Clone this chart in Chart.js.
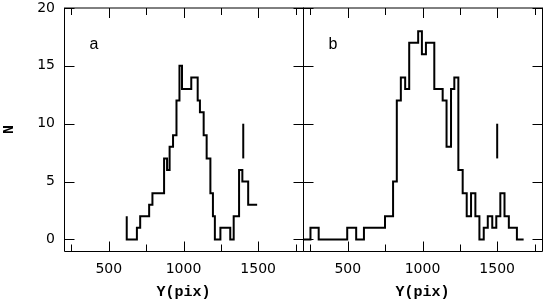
<!DOCTYPE html>
<html><head><meta charset="utf-8">
<script src="https://cdn.jsdelivr.net/npm/chart.js@4"></script>
<style>
html,body{margin:0;padding:0;background:#fff;}
#wrap{position:relative;width:545px;height:301px;overflow:hidden;background:#fff;}
.box{position:absolute;top:0;height:301px;}
</style></head><body>
<div id="wrap">
  <div class="box" style="left:0;width:310px"><canvas id="ca" width="310" height="301"></canvas></div>
  <div class="box" style="left:295px;width:250px"><canvas id="cb" width="250" height="301"></canvas></div>
</div>
<script>
// ---- data ----
const yTicks = [0, 5, 10, 15, 20];
const xLabelTicks = [500, 1000, 1500];
const xTickMarks = [250, 500, 750, 1000, 1250, 1500, 1750];

// panel a: step positions (Y pix) and counts N
const aStepX  = [620, 620, 688, 710, 770, 792, 870, 890, 907, 930, 953, 973, 990, 1052, 1095, 1110, 1135, 1155, 1180, 1197, 1210, 1247, 1313, 1336, 1372, 1394, 1433, 1493];
const aCounts = [2,   0,   1,   2,   3,   4,   7,   6,   8,   9,   12,  15,  13,  14,   12,   11,   9,    7,    4,    2,    0,    1,    0,    2,    6,    5,    3,    3];
const aMarkX = [1400, 1400];
const aMarkY = [7, 10];

// panel b
const bStepX  = [200, 250, 305, 496, 556, 608, 749, 803, 828, 855, 884, 911, 971, 996, 1023, 1079, 1135, 1161, 1191, 1213, 1240, 1269, 1296, 1325, 1354, 1381, 1410, 1437, 1467, 1494, 1521, 1549, 1578, 1632, 1677];
const bCounts = [0,   1,   0,   1,   0,   1,   2,   5,   12,  14,  13,  17,  18,  16,  17,   13,   12,   8,    13,   14,   6,    4,    2,    4,    2,    0,    1,    2,    1,    2,    4,    2,    1,    0,    0];
const bMarkX = [1500, 1500];
const bMarkY = [7, 10];

const panelLabels = ['a', 'b'];

// ---- drawing ----
const framePlugin = {
  id: 'frame',
  afterDraw(chart, args, opts) {
    const ctx = chart.ctx;
    const {left, right, top, bottom} = chart.chartArea;
    const xs = chart.scales.x, ys = chart.scales.y;
    ctx.save();
    ctx.strokeStyle = '#000';
    ctx.lineWidth = 1;
    ctx.beginPath();
    const L = Math.round(left) + 0.5, R = Math.round(right) + 0.5, B = Math.round(bottom) + 0.5, T = Math.round(top);
    ctx.moveTo(L, T); ctx.lineTo(L, B); ctx.lineTo(R, B); ctx.lineTo(R, T);
    ctx.stroke();
    ctx.beginPath();
    ctx.moveTo(L - 0.5, T); ctx.lineTo(R + 0.5, T);
    ctx.stroke();
    ctx.beginPath();
    xTickMarks.forEach(v => {
      const p = Math.round(xs.getPixelForValue(v)) + 0.5;
      const len = (v % 500 === 0) ? 10 : 7;
      ctx.moveTo(p, B); ctx.lineTo(p, B - len);
      ctx.moveTo(p, T); ctx.lineTo(p, T + len);
    });
    yTicks.forEach(v => {
      const p = Math.round(ys.getPixelForValue(v)) + 0.5;
      ctx.moveTo(L, p); ctx.lineTo(L + 10, p);
      ctx.moveTo(R, p); ctx.lineTo(R - 10, p);
    });
    ctx.stroke();
    // panel letter
    ctx.fillStyle = '#000';
    ctx.font = '16px "Liberation Sans"';
    ctx.textAlign = 'center';
    ctx.textBaseline = 'middle';
    ctx.fillText(opts.letter, xs.getPixelForValue(400), ys.getPixelForValue(16.8));
    ctx.restore();
  }
};

function makePanel(id, stepX, counts, markX, markY, letter, showY, padding) {
  const hist = stepX.map((x, i) => ({x: x, y: counts[i]}));
  const mark = markX.map((x, i) => ({x: x, y: markY[i]}));
  return new Chart(document.getElementById(id), {
    type: 'line',
    data: {
      datasets: [
        {data: hist, stepped: 'before', borderColor: '#000', borderWidth: 2, pointRadius: 0, fill: false, tension: 0},
        {data: mark, borderColor: '#000', borderWidth: 2, pointRadius: 0, fill: false, tension: 0}
      ]
    },
    options: {
      responsive: false,
      animation: false,
      devicePixelRatio: 1,
      layout: {padding: padding},
      plugins: {legend: {display: false}, tooltip: {enabled: false}, frame: {letter: letter}},
      scales: {
        x: {
          type: 'linear', min: 200, max: 1800,
          grid: {display: false, drawTicks: false},
          border: {display: false},
          afterBuildTicks: s => { s.ticks = xLabelTicks.map(v => ({value: v})); },
          afterFit: s => { s.height = 50; s.paddingLeft = 0; s.paddingRight = 0; },
          ticks: {color: '#000', font: {family: 'DejaVu Sans', size: 14, lineHeight: 1}, padding: 11, maxRotation: 0, autoSkip: false, callback: v => String(v)},
          title: {display: true, text: 'Y(pix)', color: '#000', font: {family: 'Liberation Mono', size: 15, weight: 'bold', lineHeight: 1.2}, padding: {top: 0, bottom: 0}}
        },
        y: {
          type: 'linear', min: -1, max: 20,
          display: showY,
          grid: {display: false, drawTicks: false},
          border: {display: false},
          afterBuildTicks: s => { s.ticks = yTicks.map(v => ({value: v})); },
          afterFit: s => { s.width = showY ? 64 : 0; s.paddingTop = 0; s.paddingBottom = 0; },
          ticks: {color: '#000', font: {family: 'DejaVu Sans', size: 14, lineHeight: 1}, padding: 9, callback: v => String(v)},
          title: {display: true, text: 'N', color: '#000', font: {family: 'Liberation Mono', size: 15, weight: 'bold', lineHeight: 1.2}, padding: 0}
        }
      }
    },
    plugins: [framePlugin]
  });
}

makePanel('ca', aStepX, aCounts, aMarkX, aMarkY, panelLabels[0], true, {top: 8, right: 7, left: 0, bottom: 0});
makePanel('cb', bStepX, bCounts, bMarkX, bMarkY, panelLabels[1], false, {top: 8, right: 3, left: 8, bottom: 0});
</script>
</body></html>
